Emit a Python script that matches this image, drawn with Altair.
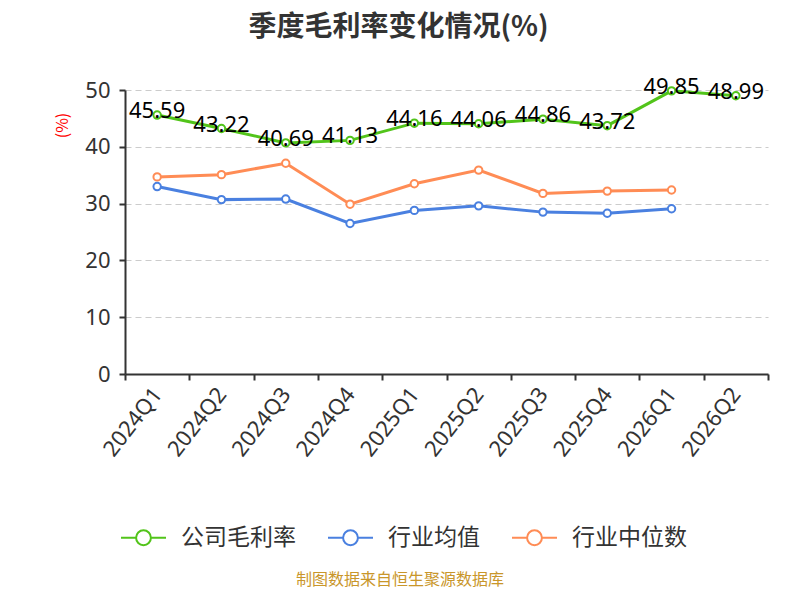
import altair as alt
import pandas as pd

quarters = ["2024Q1", "2024Q2", "2024Q3", "2024Q4", "2025Q1", "2025Q2",
            "2025Q3", "2025Q4", "2026Q1", "2026Q2"]
company = [45.59, 43.22, 40.69, 41.13, 44.16, 44.06, 44.86, 43.72, 49.85, 48.99]
industry_avg = [33.0, 30.7, 30.8, 26.5, 28.8, 29.6, 28.5, 28.3, 29.1]
industry_med = [34.7, 35.1, 37.1, 29.9, 33.5, 35.9, 31.8, 32.2, 32.4]
series_names = ["公司毛利率", "行业均值", "行业中位数"]
series_colors = ["#52c41a", "#4a80e0", "#ff8c55"]

rows = []
for q, v in zip(quarters, company):
    rows.append({"q": q, "v": v, "s": series_names[0]})
for q, v in zip(quarters, industry_avg):
    rows.append({"q": q, "v": v, "s": series_names[1]})
for q, v in zip(quarters, industry_med):
    rows.append({"q": q, "v": v, "s": series_names[2]})
df = pd.DataFrame(rows)

FONT = "Noto Sans CJK SC"
NUMFONT = "Noto Sans"

x_enc = alt.X("q:N", sort=quarters,
              scale=alt.Scale(type="band", domain=quarters, paddingInner=0, paddingOuter=0),
              axis=alt.Axis(title=None, tickBand="extent", labelAngle=-52, labelAlign="right",
                            labelBaseline="middle", labelFontSize=22, labelColor="#333333",
                            labelFont=NUMFONT, labelPadding=10, tickSize=6, tickColor="#333333",
                            tickWidth=2, domainColor="#333333", domainWidth=2, grid=False))
y_enc = alt.Y("v:Q", scale=alt.Scale(domain=[0, 50], nice=False),
              axis=alt.Axis(title="(%)", values=[0, 10, 20, 30, 40, 50], labelFontSize=22,
                            labelColor="#333333", labelFont=NUMFONT, labelPadding=9,
                            tickSize=6, tickColor="#333333", tickWidth=2,
                            domainColor="#333333", domainWidth=2,
                            grid=True, gridDash=[6, 4], gridColor="#cccccc", gridWidth=1.2,
                            titleColor="#ff0000", titleFontSize=16, titleFontWeight="normal",
                            titleFont=FONT, titleX=-63, titleY=35, titleAngle=-90,
                            titleAlign="center", titleBaseline="middle"))

symbol_path = ("M-1,0H-0.33 M0.33,0H1 M0.33,0 A0.33,0.33 0 1,1 -0.33,0 "
               "A0.33,0.33 0 1,1 0.33,0")
color_enc = alt.Color("s:N", scale=alt.Scale(domain=series_names, range=series_colors),
                      legend=alt.Legend(title=None, orient="none", direction="horizontal",
                                        columns=3, legendX=-5, legendY=424,
                                        symbolType=symbol_path, symbolSize=2025,
                                        symbolStrokeWidth=2, symbolFillColor="white",
                                        labelFontSize=23, labelColor="#333333", labelFont=FONT,
                                        labelOffset=14, columnPadding=28, symbolOffset=0))

base = alt.Chart(df)
lines = base.mark_line(strokeWidth=3).encode(x=x_enc, y=y_enc, color=color_enc)
points = base.mark_point(filled=False, fill="white", opacity=1, size=55, strokeWidth=2).encode(
    x=x_enc, y=y_enc, color=color_enc)
labels = base.transform_filter(alt.datum.s == series_names[0]).mark_text(
    fontSize=22, color="#000000", font=NUMFONT, dy=-4).encode(
    x=x_enc, y=y_enc, text=alt.Text("v:Q", format=".2f"))

source = alt.Chart(pd.DataFrame({"t": ["制图数据来自恒生聚源数据库"]})).mark_text(
    fontSize=16, color="#c9962a", font=FONT).encode(
    x=alt.value(275), y=alt.value(490), text="t:N")

chart = alt.layer(lines, points, labels, source).properties(
    width=643, height=284,
    autosize=alt.AutoSizeParams(type="none"),
    padding={"left": 117, "top": 82, "right": 18, "bottom": 218},
    title=alt.TitleParams("季度毛利率变化情况(%)", fontSize=28, font=FONT, fontWeight="bold",
                          color="#333333", anchor="middle", dx=-48, offset=34),
).configure_view(stroke=None)

chart.save("out.html", embed_options={"renderer": "svg", "actions": False})
